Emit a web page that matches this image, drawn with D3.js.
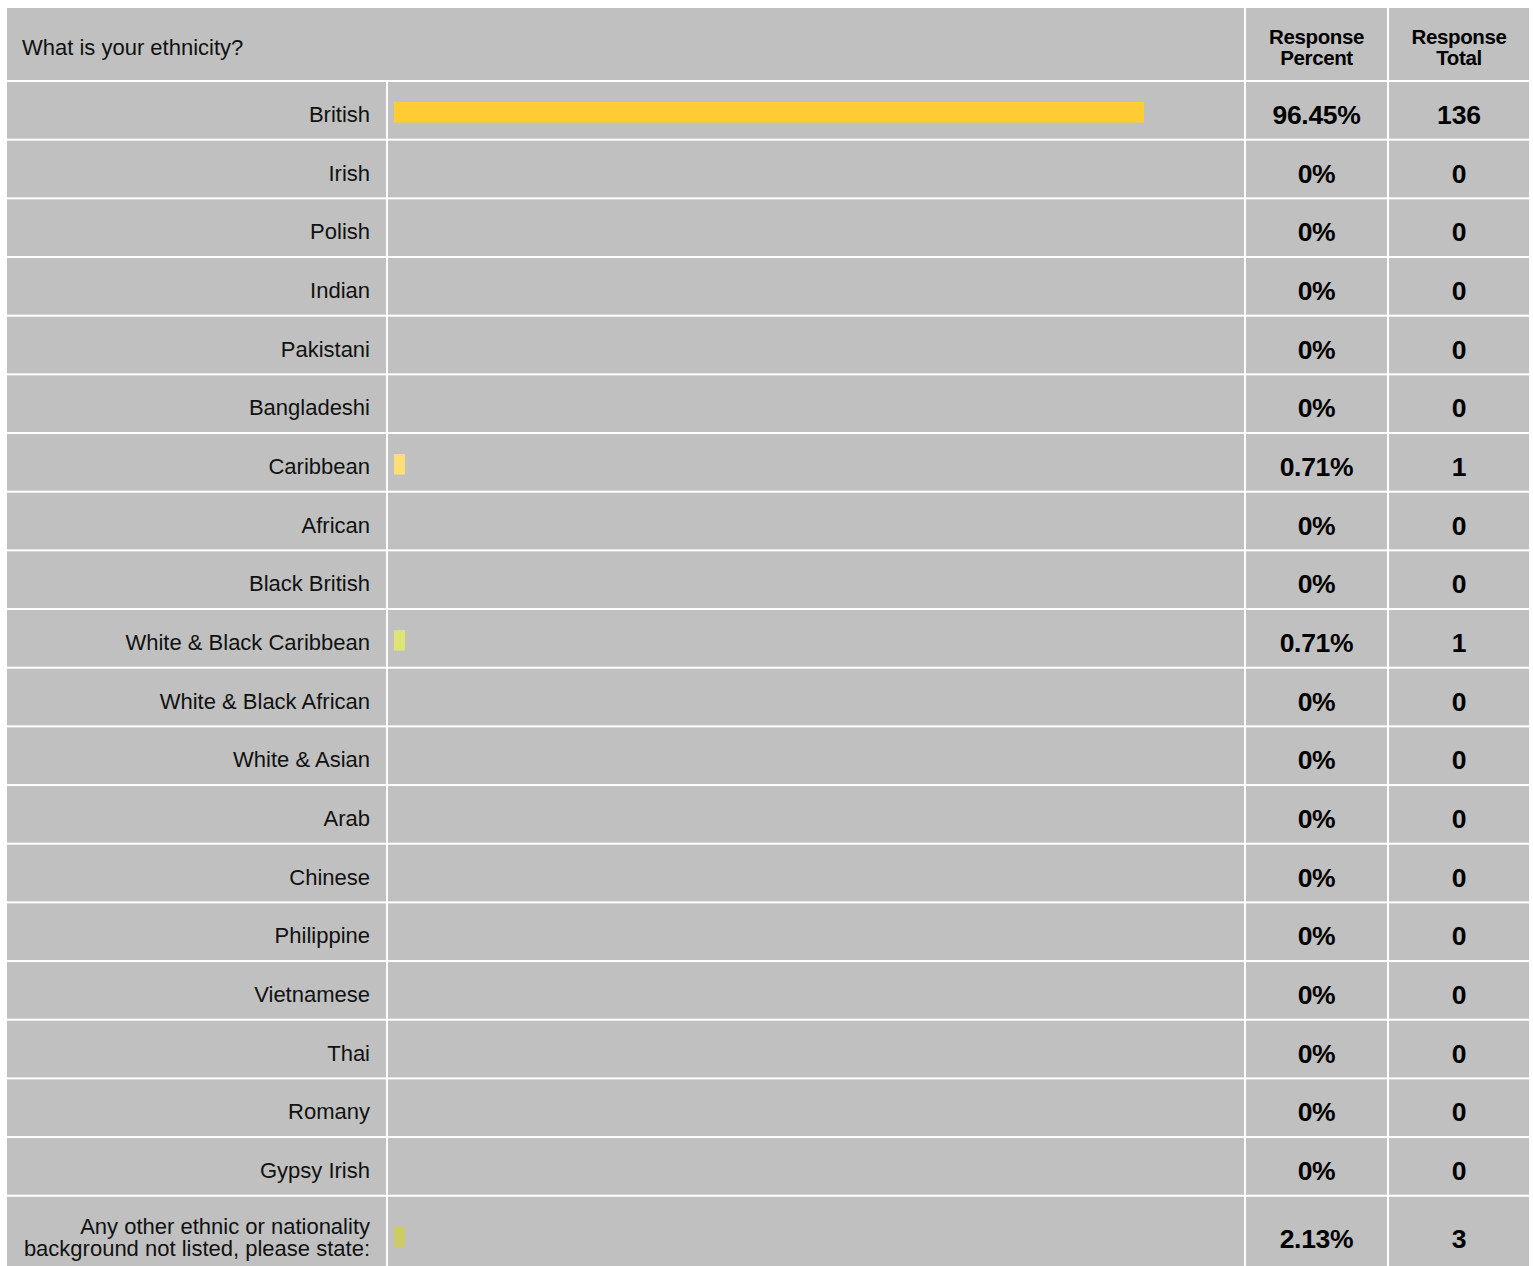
<!DOCTYPE html>
<html>
<head>
<meta charset="utf-8">
<script src="https://cdn.jsdelivr.net/npm/d3@7/dist/d3.min.js"></script>
<style>
  html, body { margin: 0; padding: 0; background: #ffffff; }
  svg { display: block; }
  svg text { font-family: Arial, "Liberation Sans", Helvetica, sans-serif; }
</style>
</head>
<body>
<svg id="chart" width="1533" height="1266"></svg>
<script>
// ---- data ----
const question = "What is your ethnicity?";
const headerPercent = ["Response", "Percent"];
const headerTotal = ["Response", "Total"];
const categories = [
  "British", "Irish", "Polish", "Indian", "Pakistani", "Bangladeshi",
  "Caribbean", "African", "Black British", "White & Black Caribbean",
  "White & Black African", "White & Asian", "Arab", "Chinese",
  "Philippine", "Vietnamese", "Thai", "Romany", "Gypsy Irish",
  "Any other ethnic or nationality|background not listed, please state:"
];
const percents = [96.45, 0, 0, 0, 0, 0, 0.71, 0, 0, 0.71, 0, 0, 0, 0, 0, 0, 0, 0, 0, 2.13];
const percentLabels = ["96.45%", "0%", "0%", "0%", "0%", "0%", "0.71%", "0%", "0%", "0.71%",
  "0%", "0%", "0%", "0%", "0%", "0%", "0%", "0%", "0%", "2.13%"];
const totals = [136, 0, 0, 0, 0, 0, 1, 0, 0, 1, 0, 0, 0, 0, 0, 0, 0, 0, 0, 3];

// ---- styles / layout ----
const cellFill = "#c0c0c0";
const barColor = d3.scaleOrdinal()
  .domain(["British", "Caribbean", "White & Black Caribbean", categories[19]])
  .range(["#ffcc33", "#ffdd77", "#dde577", "#cccc66"])
  .unknown("#ffcc33");

const svg = d3.select("#chart");
const gap = 2;
const colX = [7, 388, 1246, 1389];
const colR = [386, 1244, 1387, 1529];
const headerTop = 8, headerBottom = 80;
const rowsTop = 82, rowStep = 58.67, lastRowH = 78;
const labelSize = 22, valueSize = 26.5;

const y = d3.scaleBand().domain(d3.range(categories.length))
  .range([rowsTop, rowsTop + rowStep * categories.length]).paddingInner(0);
const rowH = i => i === categories.length - 1 ? lastRowH : rowStep;

const x = d3.scaleLinear().domain([0, 100]).range([0, 777.6]);
const minBar = 11;
const barW = v => v <= 0 ? 0 : (x(v) < 20 ? minBar : x(v));
const barH = 20.5;

// header cells
svg.append("rect").attr("x", colX[0]).attr("y", headerTop)
  .attr("width", colR[1] - colX[0]).attr("height", headerBottom - headerTop).attr("fill", cellFill);
svg.append("rect").attr("x", colX[2]).attr("y", headerTop)
  .attr("width", colR[2] - colX[2]).attr("height", headerBottom - headerTop).attr("fill", cellFill);
svg.append("rect").attr("x", colX[3]).attr("y", headerTop)
  .attr("width", colR[3] - colX[3]).attr("height", headerBottom - headerTop).attr("fill", cellFill);

svg.append("text").attr("x", 22).attr("y", 55)
  .attr("font-size", labelSize).attr("fill", "#111").text(question);

[[headerPercent, (colX[2] + colR[2]) / 2], [headerTotal, (colX[3] + colR[3]) / 2]].forEach(([lines, cx]) => {
  const t = svg.append("text").attr("x", cx).attr("text-anchor", "middle")
    .attr("font-size", 20.5).attr("font-weight", "bold").attr("letter-spacing", "-0.4")
    .attr("fill", "#000");
  lines.forEach((l, k) => t.append("tspan").attr("x", cx).attr("y", 44 + k * 21).text(l));
});

// rows
const rows = svg.append("g").selectAll("g.row").data(categories).join("g").attr("class", "row");
rows.each(function(cat, i) {
  const g = d3.select(this);
  const top = y(i);
  const h = rowH(i) - gap;
  for (let c = 0; c < 4; c++) {
    g.append("rect").attr("x", colX[c]).attr("y", top)
      .attr("width", colR[c] - colX[c]).attr("height", h).attr("fill", cellFill);
  }
  const mid = top + h / 2;
  const lines = cat.split("|");
  if (lines.length === 1) {
    g.append("text").attr("text-anchor", "end").attr("font-size", labelSize).attr("fill", "#111")
      .attr("x", 370).attr("y", mid + 11.5).text(lines[0]);
  } else {
    lines.forEach((l, k) => g.append("text").attr("text-anchor", "end")
      .attr("font-size", labelSize).attr("fill", "#111")
      .attr("x", 370).attr("y", mid - 0.5 + k * 22).text(l));
  }
  const w = barW(percents[i]);
  if (w > 0) {
    g.append("rect").attr("x", colX[1] + 6).attr("y", mid - barH / 2 + 2)
      .attr("width", w).attr("height", barH).attr("fill", barColor(cat));
  }
  g.append("text").attr("x", (colX[2] + colR[2]) / 2).attr("y", mid + 13.5)
    .attr("text-anchor", "middle").attr("font-size", valueSize).attr("font-weight", "bold")
    .attr("letter-spacing", "-0.3").attr("fill", "#000")
    .text(percentLabels[i]);
  g.append("text").attr("x", (colX[3] + colR[3]) / 2).attr("y", mid + 13.5)
    .attr("text-anchor", "middle").attr("font-size", valueSize).attr("font-weight", "bold")
    .attr("fill", "#000")
    .text(totals[i]);
});
</script>
</body>
</html>
